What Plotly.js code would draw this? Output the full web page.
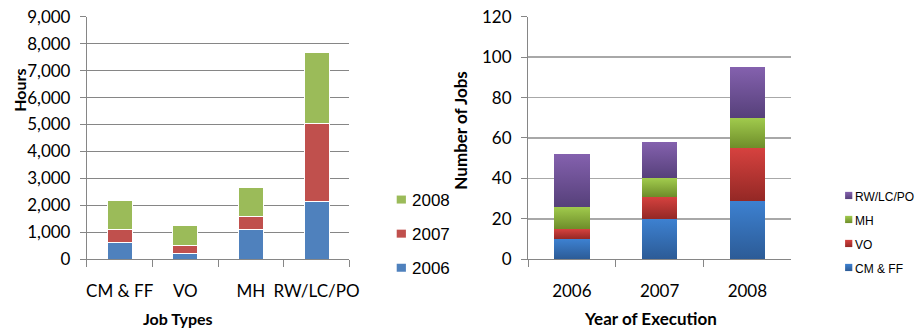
<!DOCTYPE html>
<html>
<head>
<meta charset="utf-8">
<script src="https://cdn.plot.ly/plotly-3.0.1.min.js"></script>
<style>
  html, body { margin: 0; padding: 0; background: #fff; }
  #chart { width: 920px; height: 329px; }
</style>
</head>
<body>
<div id="chart"></div>
<script>
// Hours spent per job type, stacked by year
const jobTypes = ['CM & FF', 'VO', 'MH', 'RW/LC/PO'];
const hours2006 = [620, 200, 1110, 2140];
const hours2007 = [490, 300, 470, 2880];
const hours2008 = [1060, 770, 1080, 2660];

// Number of jobs executed per year, stacked by job type
const years = ['2006', '2007', '2008'];
const jobsCMFF = [10, 20, 29];
const jobsVO = [5, 11, 26];
const jobsMH = [11, 9, 15];
const jobsRW = [26, 18, 25];

const FONT = 'Lato, "Liberation Sans", sans-serif';
const LEGEND_FONT = '"Liberation Sans", Arial, sans-serif';
const GRID = '#868686';

const yearColors = { '2006': '#4F81BD', '2007': '#C0504D', '2008': '#9BBB59' };
const typeColors = { 'CM & FF': '#3570B5', 'VO': '#BB3533', 'MH': '#88AE3C', 'RW/LC/PO': '#6E5095' };
// top/bottom colours of the shaded bars on the right
const typeGradients = {
  'CM & FF': ['#3D81D1', '#2C5B96'],
  'VO': ['#D6423F', '#942825'],
  'MH': ['#A1CB4D', '#6E8D2A'],
  'RW/LC/PO': ['#8461AE', '#56407A']
};

function hoursTrace(name, values, rank) {
  return {
    type: 'bar', name: name, x: jobTypes, y: values,
    xaxis: 'x', yaxis: 'y', width: 0.38, legend: 'legend', legendgroup: 'h' + name, legendrank: rank,
    marker: { color: yearColors[name], line: { color: '#ffffff', width: 1 } }
  };
}
function jobsTrace(name, values, rank) {
  return {
    type: 'bar', name: name, x: years, y: values,
    xaxis: 'x2', yaxis: 'y2', width: 0.405, legend: 'legend2', legendgroup: 'j' + name, legendrank: rank,
    marker: { color: typeColors[name], line: { width: 0 } }
  };
}

const data = [
  hoursTrace('2006', hours2006, 3),
  hoursTrace('2007', hours2007, 2),
  hoursTrace('2008', hours2008, 1),
  jobsTrace('CM & FF', jobsCMFF, 4),
  jobsTrace('VO', jobsVO, 3),
  jobsTrace('MH', jobsMH, 2),
  jobsTrace('RW/LC/PO', jobsRW, 1)
];

const xCommon = {
  type: 'category', tickson: 'boundaries', ticks: 'outside', ticklen: 7,
  tickcolor: GRID, showline: true, linecolor: GRID, linewidth: 1, tickangle: 0,
  showgrid: false, zeroline: false, ticklabelstandoff: 16,
  tickfont: { family: FONT, size: 17, color: '#000' }
};
const yCommon = {
  ticks: 'outside', ticklen: 6, tickcolor: GRID, showline: true, linecolor: GRID,
  linewidth: 1, showgrid: true, gridcolor: GRID, gridwidth: 1, zeroline: false,
  ticklabelstandoff: 6, tickfont: { family: FONT, size: 17, color: '#000' }
};
const yDomain = [0.2119, 0.9493];

function title(text, x, y, size, angle) {
  return {
    text: '<b>' + text + '</b>', xref: 'paper', yref: 'paper', x: x, y: y,
    xanchor: 'center', yanchor: 'middle', textangle: angle || 0,
    showarrow: false, font: { family: FONT, size: size, color: '#000' }
  };
}

const layout = {
  width: 920, height: 329,
  margin: { l: 0, r: 0, t: 0, b: 0 },
  paper_bgcolor: '#ffffff', plot_bgcolor: '#ffffff',
  barmode: 'stack', showlegend: true,
  font: { family: FONT, color: '#000' },
  xaxis: Object.assign({}, xCommon, { domain: [0.0957, 0.3848], anchor: 'y' }),
  yaxis: Object.assign({}, yCommon, { domain: yDomain, anchor: 'x', range: [0, 9000], dtick: 1000, tickformat: ',d' }),
  xaxis2: Object.assign({}, xCommon, { domain: [0.5815, 0.8714], anchor: 'y2' }),
  yaxis2: Object.assign({}, yCommon, { domain: yDomain, anchor: 'x2', range: [0, 120], dtick: 20,
    gridcolor: '#a8a8a8', gridwidth: 1.5 }),
  legend: {
    x: 0.4097, xanchor: 'left', y: 0.4468, yanchor: 'top',
    traceorder: 'grouped', tracegroupgap: 9,
    font: { family: LEGEND_FONT, size: 17, color: '#000' }, bgcolor: 'rgba(0,0,0,0)'
  },
  legend2: {
    x: 0.898, xanchor: 'left', y: 0.4469, yanchor: 'top',
    traceorder: 'grouped', tracegroupgap: 5,
    font: { family: LEGEND_FONT, size: 12, color: '#000' }, bgcolor: 'rgba(0,0,0,0)'
  },
  annotations: [
    title('Job Types', 0.1957, 0.0334, 16),
    title('Hours', 0.0207, 0.7264, 16, -90),
    title('Year of Execution', 0.7163, 0.0334, 17),
    title('Number of Jobs', 0.5062, 0.6018, 17, -90)
  ]
};

// Vertical shading for the job-count bars, one gradient per job type,
// and small legend swatches set close to their labels
function finishChart(gd) {
  const svg = gd.querySelector('.main-svg');
  const NS = 'http://www.w3.org/2000/svg';
  let defs = svg.querySelector('defs');
  if (!defs) { defs = document.createElementNS(NS, 'defs'); svg.insertBefore(defs, svg.firstChild); }
  const ids = {};
  Object.keys(typeGradients).forEach((name, i) => {
    const id = 'jobshade' + i;
    ids[name] = id;
    const lg = document.createElementNS(NS, 'linearGradient');
    lg.setAttribute('id', id);
    lg.setAttribute('x1', '0'); lg.setAttribute('y1', '0');
    lg.setAttribute('x2', '0'); lg.setAttribute('y2', '1');
    [[0, typeGradients[name][0]], [1, typeGradients[name][1]]].forEach(([off, col]) => {
      const s = document.createElementNS(NS, 'stop');
      s.setAttribute('offset', off);
      s.setAttribute('stop-color', col);
      lg.appendChild(s);
    });
    defs.appendChild(lg);
  });
  const traceOf = (g) => {
    const d = g.__data__;
    return d && d[0] && d[0].trace;
  };
  const shade = (tr) => (tr && tr.xaxis === 'x2' && ids[tr.name]) ? 'url(#' + ids[tr.name] + ')' : null;

  gd.querySelectorAll('.barlayer .trace').forEach(g => {
    const f = shade(traceOf(g));
    if (f) g.querySelectorAll('path').forEach(p => { p.style.fill = f; });
  });
  gd.querySelectorAll('g.legend .traces, g.legend2 .traces').forEach(g => {
    const tr = traceOf(g);
    if (!tr) return;
    const f = shade(tr);
    const right = tr.legend === 'legend2';
    g.querySelectorAll('.legendpoints path').forEach(p => {
      if (f) p.style.fill = f;
      p.setAttribute('d', right ? 'M3.6,3.6H-3.6V-3.6H3.6Z' : 'M4.6,4H-4.6V-4H4.6Z');
      p.setAttribute('transform', right ? 'translate(33.7,-1)' : 'translate(29.3,0)');
      p.style.strokeWidth = '0px';
    });
  });
}

const gd = document.getElementById('chart');
Plotly.newPlot(gd, data, layout, { staticPlot: true, displayModeBar: false })
  .then(() => finishChart(gd));
</script>
</body>
</html>
